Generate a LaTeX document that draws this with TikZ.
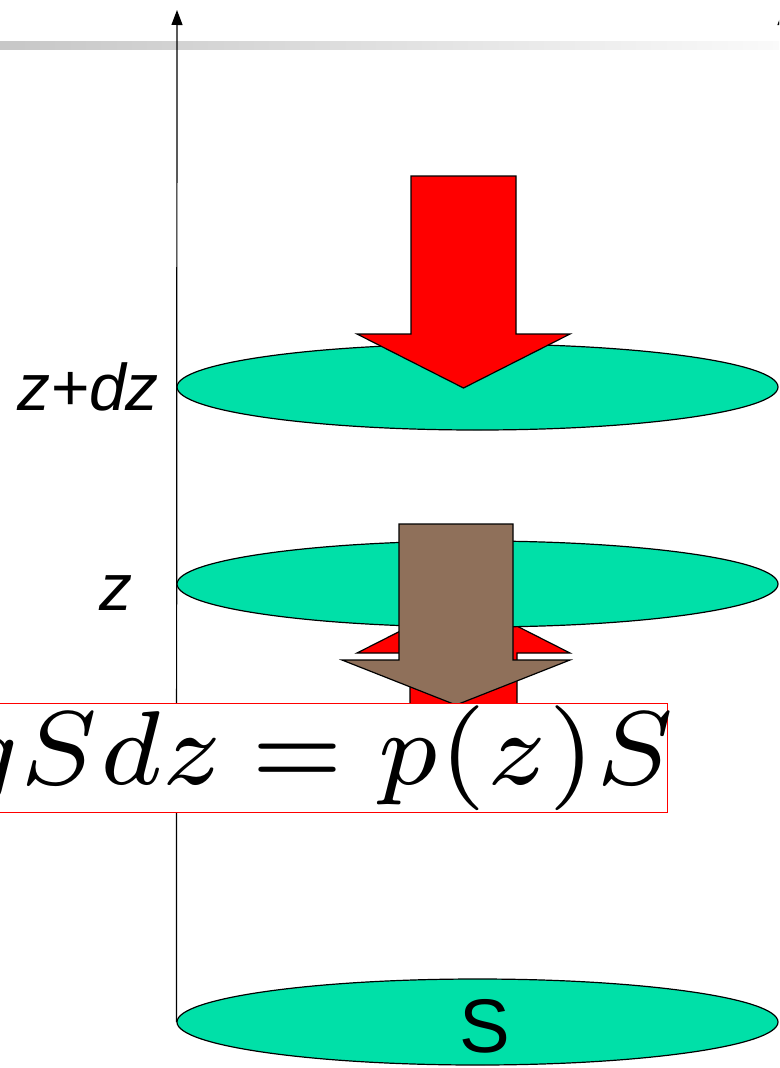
\documentclass[tikz,border=0pt]{standalone}
\usepackage{fontspec}
\newfontfamily\arial{Liberation Sans}
\usetikzlibrary{arrows.meta,shapes.geometric}
\definecolor{sgreen}{HTML}{00E0A8}
\definecolor{sred}{HTML}{FF0000}
\definecolor{sbrown}{HTML}{8F705A}
\tikzset{
 slice/.style={ellipse, draw, fill=sgreen, line width=1.2pt, minimum width=601pt, minimum height=86pt, inner sep=0pt},
 blockarr/.style={draw, line width=1.2pt, line join=miter},
 axisline/.style={line width=1.2pt, -{Triangle[length=15pt,width=11pt]}},
 lbl/.style={font=\arial\fontsize{66}{70}\selectfont, inner sep=0pt}
}

\begin{document}
\begin{tikzpicture}[x=1pt,y=-1pt]
 \useasboundingbox (0,0) rectangle (779,1068);
 \clip (0,0) rectangle (779,1068);
 \shade[left color=black!22, right color=black!2] (0,41) rectangle (779,49);
 % slices of the column
 \node[slice] (sbot) at (477.5,1022) {};
 \node[slice] (stop) at (477.5,387) {};
 \coordinate (ltip) at (177,10);
 \coordinate (rbot) at (783,1022);
 \coordinate (rtip) at (783,10);
 \draw[axisline] (sbot.west) -- (ltip);
 \draw[axisline] (rbot) -- (rtip);
 % pressure from above
 \draw[blockarr, fill=sred] (411,176) -- (516,176) -- (516,334) -- (570,334) -- (463.5,388) -- (357,334) -- (411,334) -- cycle;
 % pressure from below
 \draw[blockarr, fill=sred] (410,811) -- (517,811) -- (517,653) -- (570,653) -- (463.5,599) -- (357,653) -- (410,653) -- cycle;
 \node[slice] (smid) at (477.5,584) {};
 % weight
 \draw[blockarr, fill=sbrown] (399,524) -- (513,524) -- (513,660) -- (570,660) -- (456,705) -- (342,660) -- (399,660) -- cycle;
 \node[draw=sred, fill=white, line width=1pt, minimum height=109pt, inner xsep=0pt, inner ysep=0pt, anchor=north east] (eq) at (668,703)
  {\scalebox{15}{\fontsize{7}{8}\selectfont$gSdz\hspace{-0.4pt}=p(z)S$}\hspace*{-7pt}};
 \node[lbl, font=\arial\itshape\fontsize{66}{70}\selectfont, anchor=base east] (lzdz) at (159,410) {z+dz};
 \node[lbl, font=\arial\itshape\fontsize{66}{70}\selectfont, anchor=base] (lz) at (116,610) {z};
 \node[lbl, font=\arial\fontsize{76}{80}\selectfont, anchor=base] (ls) at (485,1052) {S};
\end{tikzpicture}
\end{document}
